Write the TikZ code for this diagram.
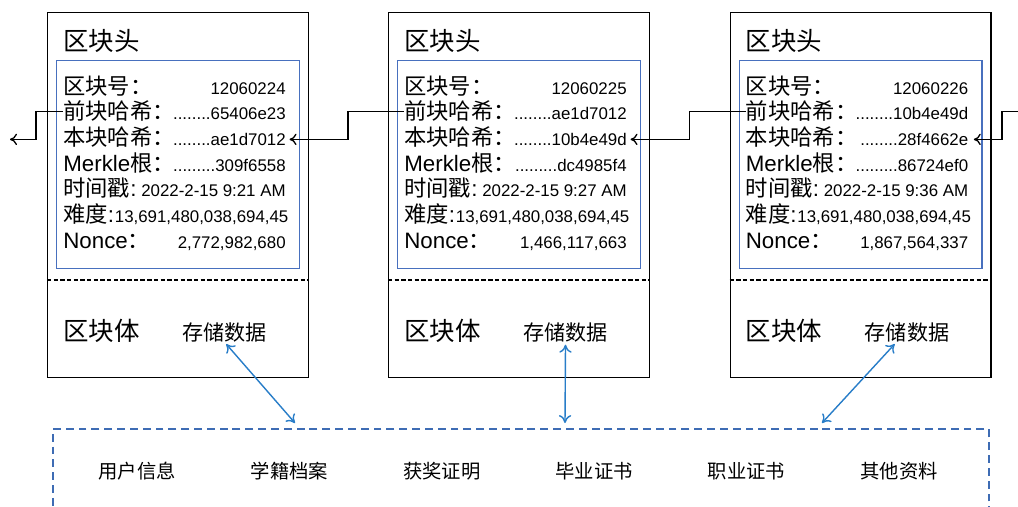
\documentclass[tikz,border=0pt]{standalone}
\usepackage{fontspec}
\setmainfont{Liberation Sans}
\newfontfamily\cjk{Noto Sans CJK SC}
\usepackage{tikz}
\usetikzlibrary{arrows.meta, calc}
\definecolor{hdrblue}{RGB}{72,112,190}
\definecolor{linkblue}{RGB}{40,125,200}
\definecolor{boxblue}{RGB}{62,108,180}

\begin{document}
\begin{tikzpicture}[x=0.02cm, y=-0.02cm,
    block/.style={draw, line width=0.85pt, anchor=north west, minimum width=5.22cm, minimum height=7.3cm, inner sep=0pt},
    hdrbox/.style={draw=hdrblue, line width=0.7pt, anchor=north west, minimum width=4.86cm, minimum height=4.16cm, inner sep=0pt},
    title/.style={anchor=base west, inner sep=0pt, font=\cjk\fontsize{14.5}{16}\selectfont},
    field/.style={anchor=base west, inner sep=0pt, font=\fontsize{12.7}{14}\selectfont},
    value/.style={anchor=base east, inner sep=0pt, font=\fontsize{9.6}{11}\selectfont},
    data/.style={anchor=base west, inner sep=0pt, font=\cjk\fontsize{12}{14}\selectfont},
    item/.style={anchor=base, inner sep=0pt, font=\cjk\fontsize{11}{13}\selectfont},
    link/.style={-{To[length=4pt,width=6.5pt]}, line width=0.75pt},
    datalink/.style={{To[length=4.5pt,width=7pt]}-{To[length=4.5pt,width=7pt]}, draw=linkblue, line width=0.8pt, shorten <=1.5pt}]

    \useasboundingbox (0,0) rectangle (1018,507);
    \clip (0,0) rectangle (1018,507);

    % three blocks of the chain
    \foreach \n/\x/\bno/\prev/\cur/\mrk/\stamp/\nonce in {
        1/47/12060224/65406e23/ae1d7012/309f6558/9:21/{2,772,982,680},
        2/388/12060225/ae1d7012/10b4e49d/dc4985f4/9:27/{1,466,117,663},
        3/729.5/12060226/10b4e49d/28f4662e/86724ef0/9:36/{1,867,564,337}} {
        \node[block] (b\n) at (\x,12) {};
        \node[hdrbox] (h\n) at (\x+9,60) {};
        \node[title] (t\n) at (\x+16,51) {区块头};
        \node[field] (no\n) at (\x+16,94) {\cjk 区块号：};
        \node[value] (nov\n) at (\x+239,94) {\bno};
        \node[field] (prev\n) at (\x+16,119.7) {\cjk 前块哈希：};
        \node[value] (prevv\n) at (\x+239,119.7) {........\prev};
        \node[field] (cur\n) at (\x+16,145.4) {\cjk 本块哈希：};
        \node[value] (hash\n) at (\x+239,145.4) {........\cur};
        \node[field] (mk\n) at (\x+16,171.1) {Merkle{\cjk 根：}};
        \node[value] (mkv\n) at (\x+239,171.1) {.........\mrk};
        \node[field] (ts\n) at (\x+16,196.8) {{\cjk 时间戳}:};
        \node[value] (tsv\n) at (\x+239,196.8) {2022-2-15 \stamp\ AM};
        \node[field] (df\n) at (\x+16,222.5) {{\cjk 难度}:};
        \node[value, anchor=base west] (dfv\n) at (df\n.base east) {13,691,480,038,694,45};
        \node[field] (nc\n) at (\x+16,248.2) {Nonce{\cjk ：}};
        \node[value] (ncv\n) at (\x+239,248.2) {\nonce};
        \draw[dashed, dash pattern=on 2.5pt off 1.3pt, line width=0.6pt] (\x,280) -- (\x+261,280);
        \node[title] (body\n) at (\x+16,340) {区块体};
        \node[data] (data\n) at (\x+135,340) {存储数据};
    }

    % hash links
    \coordinate (lout) at (10,0);
    \coordinate (rin) at (1018,0);
    \draw[link] (prev1.west) -- ++(-27,0) |- (hash1.east -| lout);
    \draw[link] (prev2.west) -- ++(-56,0) |- ([xshift=2pt]hash1.east);
    \draw[link] (prev3.west) -- ++(-56,0) |- ([xshift=2pt]hash2.east);
    \draw[link] (prev3.west -| rin) -- ++(-16,0) |- ([xshift=3pt]hash3.east);

    % storage
    \node[draw=boxblue, dashed, dash pattern=on 4.5pt off 2.8pt, line width=1pt, anchor=north west,
          minimum width=18.72cm, minimum height=3cm] (store) at (52,428) {};
    \foreach \i/\t in {0/用户信息, 1/学籍档案, 2/获奖证明, 3/毕业证书, 4/职业证书, 5/其他资料}
        \node[item] (it\i) at (137+152.4*\i,478) {\t};

    \coordinate (e1) at (295,423);
    \coordinate (e2) at (565,423);
    \coordinate (e3) at (822,423);
    \draw[datalink] (data1.south) -- (e1);
    \draw[datalink] (data2.south) -- (e2);
    \draw[datalink] ([xshift=-6pt]data3.south) -- (e3);
\end{tikzpicture}
\end{document}
